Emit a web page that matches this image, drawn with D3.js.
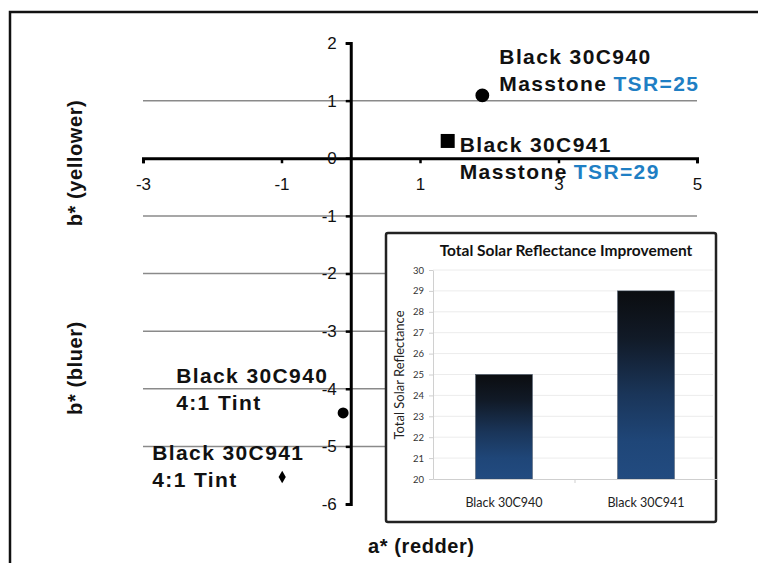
<!DOCTYPE html>
<html>
<head>
<meta charset="utf-8">
<script src="https://cdn.jsdelivr.net/npm/d3@7"></script>
<style>
  body { margin: 0; background: #fff; }
  svg { display: block; }
</style>
</head>
<body>
<div id="chart"></div>
<script>
// main a*/b* scatter
const xTicks = [-3, -1, 1, 3, 5]
const yTicks = [2, 1, 0, -1, -2, -3, -4, -5, -6]
const gridValues = [1, -1, -2, -3, -4, -5]
const sampleNames = ['Black 30C940 Masstone', 'Black 30C941 Masstone', 'Black 30C940 4:1 Tint', 'Black 30C941 4:1 Tint']
const aValues = [1.9, 1.4, -0.11, -0.99]
const bValues = [1.09, 0.3, -4.42, -5.53]
const symbols = ['circle', 'square', 'circle', 'diamond']
const labelLine1 = ['Black 30C940', 'Black 30C941', 'Black 30C940', 'Black 30C941']
const labelLine2 = ['Masstone', 'Masstone', '4:1 Tint', '4:1 Tint']
const labelTSR = ['TSR=25', 'TSR=29', '', '']

// inset bar chart
const barCategories = ['Black 30C940', 'Black 30C941']
const tsrValues = [25, 29]
const tsrTicks = [20, 21, 22, 23, 24, 25, 26, 27, 28, 29, 30]

const W = 758, H = 563

const svg = d3.select('#chart').append('svg')
	.attr('width', W)
	.attr('height', H)

// outer frame, runs off the right and bottom
svg.append('rect')
	.attr('x', 10).attr('y', 12)
	.attr('width', 800).attr('height', 600)
	.attr('fill', 'none')
	.attr('stroke', '#111')
	.attr('stroke-width', 2.5)

var xScale = d3.scaleLinear().domain([-3, 5]).range([143, 697])
var yScale = d3.scaleLinear().domain([2, -6]).range([43, 504])

const mainFont = '"Liberation Sans", Arial, sans-serif'
const plain = d => String(d)   // hyphen minus, like the original

// gridlines
svg.append('g')
	.selectAll('line')
	.data(gridValues)
	.join('line')
	.attr('x1', xScale(-3))
	.attr('x2', xScale(5))
	.attr('y1', d => yScale(d))
	.attr('y2', d => yScale(d))
	.attr('stroke', '#8a8a8a')
	.attr('stroke-width', 1.5)

// x axis through b*=0
const xAxis = svg.append('g')
	.attr('transform', `translate(0, ${yScale(0)})`)
	.call(d3.axisBottom(xScale).tickValues(xTicks).tickSize(5).tickSizeOuter(5).tickFormat(plain))
xAxis.select('.domain').attr('stroke', '#000').attr('stroke-width', 3)
xAxis.selectAll('.tick line').attr('stroke', '#000').attr('stroke-width', 2.5)
xAxis.selectAll('.tick text')
	.attr('y', 20)
	.attr('font-family', mainFont)
	.attr('font-size', 17)
	.attr('fill', '#111')

// y axis through a*=0
const yAxis = svg.append('g')
	.attr('transform', `translate(${xScale(0)}, 0)`)
	.call(d3.axisLeft(yScale).tickValues(yTicks).tickSize(5).tickSizeOuter(5).tickFormat(plain))
yAxis.select('.domain').attr('stroke', '#000').attr('stroke-width', 3)
yAxis.selectAll('.tick line').attr('stroke', '#000').attr('stroke-width', 2.5)
yAxis.selectAll('.tick text')
	.attr('x', -14)
	.attr('font-family', mainFont)
	.attr('font-size', 17)
	.attr('fill', '#111')

// axis titles
const title = svg.append('g')
	.attr('font-family', mainFont)
	.attr('font-weight', 'bold')
	.attr('font-size', 20)
	.attr('fill', '#111')
title.append('text')
	.attr('transform', 'translate(82, 163) rotate(-90)')
	.attr('text-anchor', 'middle')
	.attr('letter-spacing', 0.6)
	.text('b* (yellower)')
title.append('text')
	.attr('transform', 'translate(82, 368) rotate(-90)')
	.attr('text-anchor', 'middle')
	.attr('letter-spacing', 0.6)
	.text('b* (bluer)')
title.append('text')
	.attr('x', 368).attr('y', 553)
	.attr('letter-spacing', 0.6)
	.text('a* (redder)')

// sample points
const symbolSize = { circle: 150, square: 196, diamond: 45 }
const pts = sampleNames.map((n, i) => ({ name: n, a: aValues[i], b: bValues[i], sym: symbols[i], i: i }))
svg.append('g')
	.selectAll('path')
	.data(pts)
	.join('path')
	.attr('transform', d => `translate(${xScale(d.a)}, ${yScale(d.b)})`)
	.attr('d', d => {
		let size = d.i == 2 ? 95 : symbolSize[d.sym]
		let type = d.sym == 'circle' ? d3.symbolCircle : d.sym == 'square' ? d3.symbolSquare : d3.symbolDiamond
		return d3.symbol().type(type).size(size)()
	})
	.attr('fill', '#000')

// point labels, offset from each point
const labelOffset = [[17, -31], [12, 11], [-167, -30], [-130, -17]]
const lab = svg.append('g')
	.attr('font-family', mainFont)
	.attr('font-weight', 'bold')
	.attr('font-size', 21)
	.attr('letter-spacing', 1.4)
	.attr('fill', '#111')
pts.forEach((d, i) => {
	let x0 = xScale(d.a) + labelOffset[i][0]
	let y0 = yScale(d.b) + labelOffset[i][1]
	lab.append('text').attr('x', x0).attr('y', y0).text(labelLine1[i])
	let t2 = lab.append('text').attr('x', x0).attr('y', y0 + 27)
	t2.append('tspan').text(labelLine2[i])
	if (labelTSR[i]) {
		t2.append('tspan').attr('fill', '#1f7fc4').attr('dx', 6).text(labelTSR[i])
	}
})

// ---- inset chart ----
const inset = svg.append('g')
inset.append('rect')
	.attr('x', 386).attr('y', 233)
	.attr('width', 330).attr('height', 289)
	.attr('rx', 2)
	.attr('fill', '#fff')
	.attr('stroke', '#222')
	.attr('stroke-width', 2.5)

const insetFont = 'Lato, "Open Sans", sans-serif'

var bx = d3.scaleBand().domain(barCategories).range([433, 717]).paddingInner(0.6).paddingOuter(0.3)
var by = d3.scaleLinear().domain([20, 30]).range([479, 270])

const grad = svg.append('defs').append('linearGradient')
	.attr('id', 'barGrad')
	.attr('x1', 0).attr('y1', 0).attr('x2', 0).attr('y2', 1)
grad.append('stop').attr('offset', '0%').attr('stop-color', '#0b0d10')
grad.append('stop').attr('offset', '25%').attr('stop-color', '#111a27')
grad.append('stop').attr('offset', '55%').attr('stop-color', '#1a3559')
grad.append('stop').attr('offset', '80%').attr('stop-color', '#1f4678')
grad.append('stop').attr('offset', '100%').attr('stop-color', '#224b80')

// faint gridlines
inset.append('g')
	.selectAll('line')
	.data(tsrTicks.slice(1))
	.join('line')
	.attr('x1', 433).attr('x2', 713)
	.attr('y1', d => by(d)).attr('y2', d => by(d))
	.attr('stroke', '#ececec')
	.attr('stroke-width', 1)

const iy = inset.append('g')
	.attr('transform', 'translate(433, 0)')
	.call(d3.axisLeft(by).tickValues(tsrTicks).tickSize(4).tickSizeOuter(0))
iy.select('.domain').attr('stroke', '#d0d0d0')
iy.selectAll('.tick line').attr('stroke', '#cfcfcf')
iy.selectAll('.tick text')
	.attr('x', -9)
	.attr('font-family', insetFont)
	.attr('font-size', 9.5)
	.attr('fill', '#333')

inset.append('g')
	.selectAll('rect')
	.data(tsrValues)
	.join('rect')
	.attr('x', (d, i) => bx(barCategories[i]))
	.attr('width', bx.bandwidth())
	.attr('y', d => by(d))
	.attr('height', d => by(20) - by(d))
	.attr('fill', 'url(#barGrad)')
	.attr('stroke', '#3a4a5e')
	.attr('stroke-width', 0.5)

const ix = inset.append('g')
	.attr('transform', `translate(0, ${by(20)})`)
	.call(d3.axisBottom(bx).tickSize(0).tickSizeOuter(0))
ix.select('.domain').attr('stroke', '#cfcfcf').attr('stroke-width', 1)
ix.selectAll('.tick text')
	.attr('y', 19)
	.attr('font-family', insetFont)
	.attr('font-size', 12.5)
	.attr('fill', '#222')
// divider tick between the two categories
inset.append('line')
	.attr('x1', bx(barCategories[1]) - bx.step() * 0.3)
	.attr('x2', bx(barCategories[1]) - bx.step() * 0.3)
	.attr('y1', by(20)).attr('y2', by(20) + 4)
	.attr('stroke', '#cfcfcf')

inset.append('text')
	.attr('x', 566).attr('y', 256)
	.attr('text-anchor', 'middle')
	.attr('font-family', insetFont)
	.attr('font-weight', 'bold')
	.attr('font-size', 15.5)
	.attr('fill', '#111')
	.text('Total Solar Reflectance Improvement')

inset.append('text')
	.attr('transform', 'translate(404, 375) rotate(-90)')
	.attr('text-anchor', 'middle')
	.attr('font-family', insetFont)
	.attr('font-size', 13)
	.attr('fill', '#222')
	.text('Total Solar Reflectance')
</script>
</body>
</html>
